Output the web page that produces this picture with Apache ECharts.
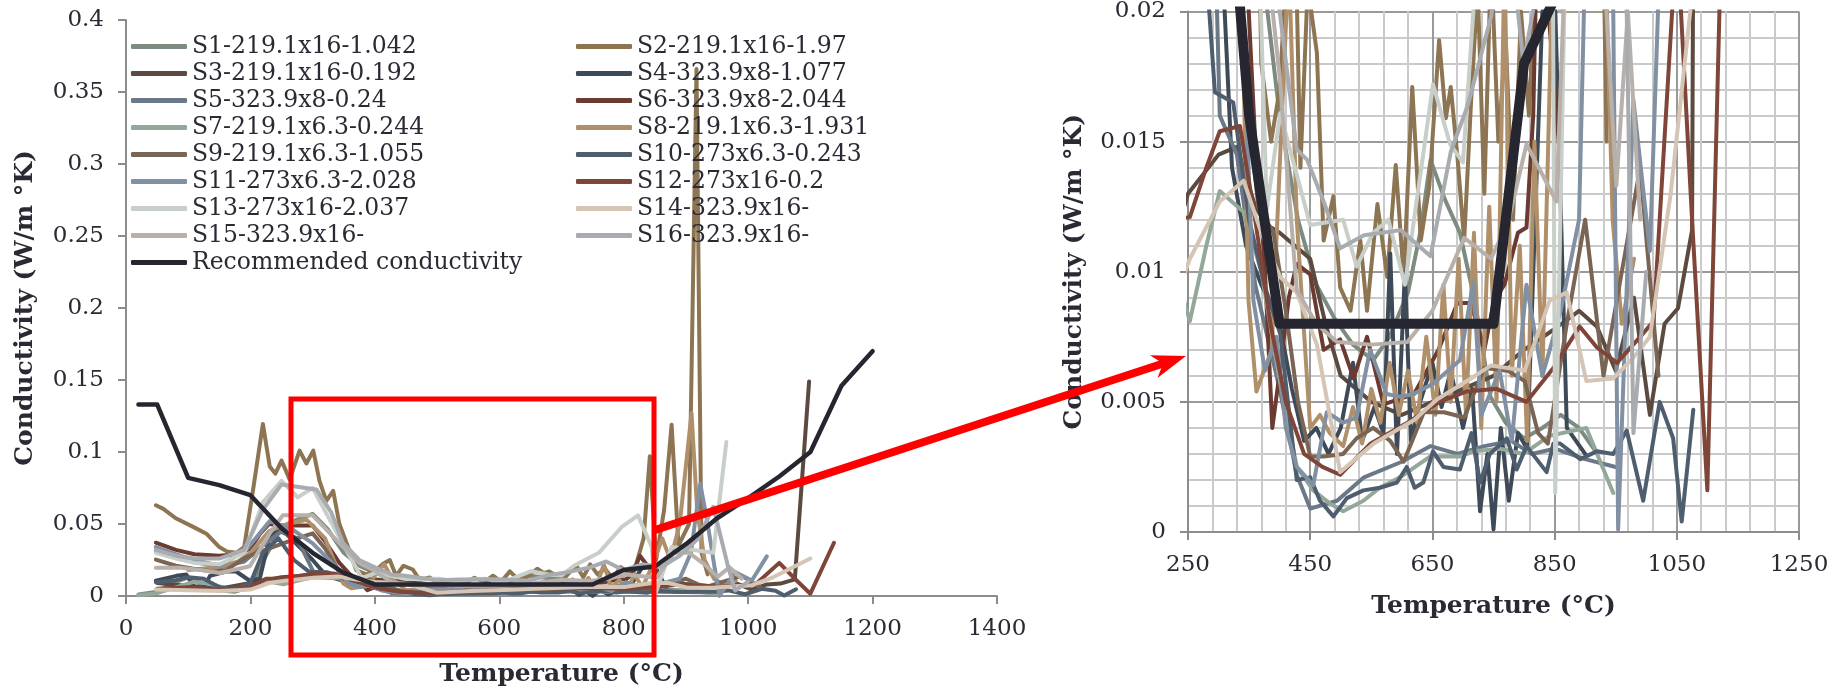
<!DOCTYPE html>
<html>
<head>
<meta charset="utf-8">
<script src="https://cdn.jsdelivr.net/npm/echarts@6/dist/echarts.min.js"></script>
<style>
  html, body { margin: 0; padding: 0; background: #ffffff; }
  #chart { width: 1841px; height: 692px; }
</style>
</head>
<body>
<div id="chart"></div>
<script>
// series names, in legend order
const seriesNames = [
  "S1-219.1x16-1.042", "S2-219.1x16-1.97", "S3-219.1x16-0.192", "S4-323.9x8-1.077",
  "S5-323.9x8-0.24", "S6-323.9x8-2.044", "S7-219.1x6.3-0.244", "S8-219.1x6.3-1.931",
  "S9-219.1x6.3-1.055", "S10-273x6.3-0.243", "S11-273x6.3-2.028", "S12-273x16-0.2",
  "S13-273x16-2.037", "S14-323.9x16-", "S15-323.9x16-", "S16-323.9x16-",
  "Recommended conductivity",
];

// [temperature °C, conductivity W/m°K]
const s1 = [[20,0.001],[50,0.003],[75,0.009],[100,0.013],[125,0.007],[150,0.004],[175,0.003],[200,0.006],[225,0.028],[250,0.048],[275,0.053],[300,0.057],[325,0.046],[350,0.03],[375,0.021],[400,0.016],[430,0.012],[460,0.0095],[490,0.0082],[520,0.0072],[553,0.0066],[580,0.0075],[610,0.0092],[630,0.0115],[647,0.0143],[670,0.0128],[695,0.0115],[720,0.0088],[745,0.0052],[770,0.0042],[800,0.0036],[830,0.004],[860,0.0045],[890,0.004],[920,0.003]];
const s2 = [[48,0.063],[60,0.0605],[80,0.054],[108,0.048],[130,0.043],[150,0.034],[162,0.031],[177,0.03],[190,0.034],[204,0.073],[220,0.1195],[231,0.09],[240,0.085],[250,0.094],[263,0.081],[279,0.101],[290,0.092],[301,0.101],[311,0.08],[322,0.066],[333,0.073],[343,0.05],[357,0.034],[370,0.018],[386,0.015],[400,0.017],[412,0.022],[424,0.025],[434,0.014],[446,0.021],[461,0.0184],[472,0.0112],[488,0.0129],[499,0.0094],[516,0.0085],[532,0.0112],[543,0.0085],[560,0.0126],[576,0.0098],[590,0.0141],[603,0.0098],[617,0.0171],[631,0.0112],[645,0.0133],[661,0.0189],[672,0.0159],[680,0.0171],[691,0.0144],[702,0.0112],[713,0.0164],[724,0.021],[735,0.013],[746,0.022],[758,0.015],[770,0.019],[782,0.012],[795,0.02],[808,0.016],[820,0.022],[832,0.04],[842,0.097],[852,0.025],[865,0.06],[877,0.119],[888,0.035],[905,0.05],[917,0.366],[925,0.03],[935,0.015]];
const s3 = [[50,0.009],[100,0.007],[150,0.005],[200,0.009],[250,0.013],[300,0.0145],[330,0.0148],[360,0.0125],[379,0.0118],[400,0.0115],[425,0.011],[450,0.0105],[475,0.008],[500,0.006],[550,0.005],[600,0.0045],[650,0.005],[700,0.0055],[750,0.006],[800,0.007],[850,0.0078],[890,0.0085],[919,0.0079],[950,0.0062],[980,0.009],[1006,0.0045],[1030,0.008],[1052,0.0086],[1075,0.0116],[1098,0.149]];
const s4 = [[48,0.0106],[81,0.014],[97,0.015],[108,0.007],[124,0.005],[135,0.014],[161,0.017],[177,0.017],[199,0.0106],[215,0.012],[231,0.041],[242,0.046],[258,0.043],[279,0.034],[300,0.025],[322,0.014],[345,0.011],[370,0.0095],[400,0.008],[420,0.0055],[440,0.0035],[460,0.004],[480,0.003],[500,0.004],[520,0.0065],[535,0.0035],[555,0.0048],[570,0.0038],[581,0.0107],[592,0.003],[605,0.01],[615,0.0035],[630,0.005],[650,0.0065],[665,0.0048],[680,0.0062],[700,0.004],[715,0.0055],[728,0.0008],[740,0.003],[750,0.0001],[762,0.004],[775,0.0012],[790,0.0038],[805,0.0032],[830,0.02],[850,0.021],[870,0.004],[900,0.003]];
const s5 = [[48,0.031],[80,0.027],[108,0.024],[150,0.02],[190,0.024],[220,0.035],[250,0.045],[275,0.04],[302,0.016],[330,0.0145],[360,0.0095],[400,0.0055],[428,0.0022],[450,0.0009],[494,0.0012],[538,0.0021],[600,0.0027],[647,0.0033],[691,0.003],[735,0.0033],[779,0.0035],[812,0.003],[850,0.0032],[900,0.0028],[950,0.0025]];
const s6 = [[48,0.037],[80,0.032],[110,0.029],[150,0.028],[180,0.029],[200,0.033],[215,0.043],[230,0.05],[250,0.049],[268,0.049],[300,0.049],[320,0.038],[343,0.023],[360,0.015],[375,0.0105],[388,0.004],[401,0.0063],[415,0.009],[428,0.0103],[450,0.0099],[472,0.007],[499,0.0074],[521,0.0059],[543,0.0075],[570,0.0049],[620,0.0053],[660,0.007],[691,0.0088],[713,0.0088],[735,0.007],[751,0.0089],[768,0.0095],[790,0.0115],[804,0.0117],[815,0.016],[826,0.028],[840,0.02],[860,0.014]];
const s7 = [[20,0.0005],[50,0.002],[80,0.006],[110,0.01],[140,0.008],[170,0.004],[200,0.005],[230,0.01],[253,0.0081],[280,0.011],[302,0.0131],[341,0.0123],[370,0.01],[401,0.0057],[428,0.0025],[455,0.0016],[482,0.0011],[504,0.0008],[537,0.0012],[564,0.0017],[597,0.0021],[646,0.0029],[695,0.0029],[717,0.0031],[761,0.0032],[799,0.003],[842,0.0037],[902,0.004],[946,0.0015]];
const s8 = [[100,0.018],[150,0.02],[180,0.024],[200,0.03],[230,0.045],[260,0.05],[290,0.053],[320,0.04],[349,0.0089],[362,0.0054],[376,0.0063],[387,0.007],[400,0.014],[415,0.022],[428,0.012],[450,0.004],[466,0.0045],[482,0.0038],[504,0.0033],[520,0.0048],[535,0.0034],[550,0.0055],[565,0.0042],[580,0.0065],[595,0.0045],[610,0.0062],[625,0.0042],[640,0.0075],[655,0.0045],[668,0.0095],[680,0.005],[693,0.0105],[705,0.0045],[718,0.0115],[730,0.004],[743,0.0125],[755,0.005],[768,0.022],[780,0.006],[793,0.011],[805,0.0035],[817,0.015],[830,0.006],[845,0.02],[862,0.04],[875,0.025],[890,0.05],[909,0.127],[918,0.06],[930,0.025],[945,0.012],[960,0.008],[980,0.0105]];
const s9 = [[48,0.0253],[80,0.021],[108,0.019],[140,0.017],[161,0.018],[193,0.027],[236,0.034],[268,0.039],[300,0.0435],[320,0.033],[341,0.018],[365,0.0125],[390,0.0115],[410,0.0085],[430,0.005],[450,0.0029],[472,0.0029],[504,0.003],[526,0.0036],[553,0.004],[581,0.0035],[603,0.0027],[636,0.0046],[669,0.0046],[702,0.0044],[735,0.0063],[773,0.0062],[801,0.0058],[823,0.0038],[839,0.0034],[870,0.008],[900,0.012],[930,0.006],[960,0.01],[990,0.014],[1020,0.006]];
const s10 = [[48,0.0095],[80,0.011],[100,0.013],[125,0.012],[150,0.006],[175,0.005],[200,0.009],[220,0.03],[245,0.04],[270,0.025],[294,0.0169],[324,0.0165],[350,0.012],[375,0.0095],[401,0.0076],[428,0.002],[450,0.0021],[466,0.0012],[488,0.0006],[510,0.0013],[537,0.0016],[564,0.0017],[592,0.0019],[608,0.0025],[621,0.0017],[635,0.0019],[651,0.0031],[668,0.0025],[695,0.0024],[714,0.0038],[728,0.0019],[744,0.003],[772,0.0036],[788,0.0024],[804,0.0033],[837,0.0023],[848,0.0034],[859,0.0034],[892,0.0028],[919,0.0031],[946,0.003],[968,0.0039],[995,0.0012],[1022,0.005],[1044,0.0036],[1058,0.0004],[1077,0.0047]];
const s11 = [[48,0.034],[80,0.029],[108,0.025],[151,0.021],[193,0.032],[231,0.052],[268,0.046],[300,0.0366],[343,0.018],[357,0.0089],[376,0.0062],[395,0.0075],[410,0.004],[428,0.0025],[455,0.0018],[477,0.0046],[504,0.0042],[526,0.0044],[548,0.007],[575,0.0053],[597,0.0052],[619,0.0053],[651,0.0057],[695,0.0066],[717,0.0096],[730,0.0045],[760,0.0062],[780,0.0035],[804,0.0095],[830,0.006],[860,0.0085],[890,0.012],[908,0.03],[923,0.078],[935,0.05],[946,0.02],[954,0.0001],[979,0.0166],[1006,0.0108],[1030,0.0275]];
const s12 = [[50,0.005],[100,0.006],[150,0.004],[200,0.006],[225,0.012],[253,0.0121],[280,0.014],[302,0.0154],[335,0.0156],[360,0.012],[385,0.008],[410,0.005],[440,0.003],[470,0.0025],[499,0.0022],[549,0.0034],[609,0.0042],[662,0.005],[706,0.0054],[755,0.0055],[804,0.005],[848,0.0063],[891,0.0079],[919,0.0071],[952,0.0065],[990,0.0075],[1012,0.0081],[1050,0.023],[1075,0.012],[1100,0.0016],[1138,0.037]];
const s13 = [[48,0.03],[80,0.026],[110,0.023],[150,0.022],[190,0.03],[220,0.065],[250,0.08],[276,0.0685],[300,0.075],[325,0.055],[350,0.035],[368,0.021],[379,0.0124],[401,0.0161],[450,0.0118],[504,0.012],[526,0.0102],[553,0.0115],[578,0.012],[605,0.0095],[651,0.0172],[679,0.0149],[700,0.0142],[720,0.021],[760,0.03],[797,0.048],[823,0.056],[845,0.034],[851,0.0015],[877,0.034],[944,0.03],[965,0.107]];
const s14 = [[48,0.0045],[100,0.004],[150,0.0035],[200,0.0045],[230,0.009],[253,0.0105],[302,0.0127],[341,0.0135],[370,0.0115],[401,0.0098],[428,0.0092],[461,0.0072],[499,0.0023],[554,0.0034],[620,0.0043],[658,0.0051],[713,0.0059],[746,0.0064],[801,0.0062],[842,0.0089],[870,0.0092],[902,0.0058],[946,0.0059],[979,0.0067],[1006,0.0075],[1040,0.013],[1072,0.02],[1100,0.026]];
const s15 = [[48,0.0197],[86,0.0197],[120,0.018],[151,0.016],[199,0.0207],[231,0.0435],[252,0.056],[300,0.056],[343,0.0367],[375,0.023],[400,0.0175],[428,0.0093],[460,0.008],[494,0.0073],[550,0.0072],[609,0.0073],[650,0.0085],[702,0.0113],[746,0.0105],[775,0.012],[804,0.0149],[853,0.0127],[880,0.03],[905,0.03],[930,0.022],[951,0.0133],[970,0.02],[990,0.012]];
const s16 = [[48,0.032],[80,0.028],[110,0.026],[150,0.026],[190,0.032],[220,0.06],[250,0.0775],[306,0.074],[330,0.058],[349,0.0367],[375,0.025],[400,0.02],[428,0.0147],[445,0.0143],[472,0.0127],[499,0.0109],[538,0.0114],[598,0.0116],[647,0.0106],[680,0.0146],[708,0.0164],[746,0.0198],[772,0.024],[799,0.018],[830,0.022],[860,0.02],[890,0.028],[920,0.04],[944,0.062],[968,0.02],[979,0.0038],[1000,0.01]];
const recommended = [[20,0.133],[50,0.133],[100,0.082],[150,0.077],[200,0.07],[250,0.047],[300,0.03],[350,0.016],[400,0.008],[450,0.008],[500,0.008],[550,0.008],[600,0.008],[650,0.008],[700,0.008],[750,0.008],[800,0.018],[850,0.0205],[900,0.036],[950,0.054],[1000,0.068],[1050,0.083],[1100,0.1],[1150,0.146],[1200,0.17]];

const seriesData = [s1, s2, s3, s4, s5, s6, s7, s8, s9, s10, s11, s12, s13, s14, s15, s16, recommended];

const colors = [
  "#7d8b80", "#8d7553", "#5b4a3f", "#3e4a57", "#6a7888", "#6b3a30", "#94a89a", "#b0906a",
  "#7a6555", "#4f5e6e", "#8290a4", "#7e4538", "#c8cec8", "#d5c5b5", "#b8b0aa", "#a8abb0",
  "#262631",
];

const font = "'DejaVu Serif', Georgia, serif";
const textColor = "#2a2a35";
const axisGray = "#8c8c8c";

function fmt(v) {
  return "" + parseFloat(v.toFixed(4));
}

function buildSeries(gridIdx) {
  let out = [];
  seriesData.forEach((d, i) => {
    let isRec = i == seriesData.length - 1;
    out.push({
      name: seriesNames[i],
      type: "line",
      xAxisIndex: gridIdx,
      yAxisIndex: gridIdx,
      data: d,
      symbol: "none",
      clip: true,
      animation: false,
      silent: true,
      itemStyle: { color: colors[i] },
      lineStyle: {
        color: colors[i],
        width: isRec ? (gridIdx == 0 ? 4.5 : 10) : 4,
        join: "round",
        cap: "round",
      },
    });
  });
  return out;
}

function legendFor(names, left) {
  return {
    orient: "vertical",
    left: left,
    top: 33,
    padding: 0,
    itemGap: 0,
    itemWidth: 56,
    itemHeight: 5,
    icon: "roundRect",
    selectedMode: false,
    data: names,
    textStyle: { fontFamily: font, fontSize: 23.5, color: textColor, lineHeight: 27 },
  };
}

let chart = echarts.init(document.getElementById("chart"));

let axisCommon = {
  axisLine: { show: true, lineStyle: { color: axisGray, width: 2 } },
  axisTick: { show: true, length: 8, lineStyle: { color: axisGray, width: 2 } },
  axisLabel: { fontFamily: font, fontSize: 23, color: textColor, margin: 22, formatter: fmt },
  nameLocation: "middle",
  nameTextStyle: { fontFamily: font, fontSize: 25, fontWeight: "bold", color: textColor },
};

let option = {
  backgroundColor: "#ffffff",
  textStyle: { fontFamily: font },
  legend: [
    legendFor(seriesNames.filter((n, i) => i % 2 == 0), 131),
    legendFor(seriesNames.filter((n, i) => i % 2 == 1), 576),
  ],
  grid: [
    { left: 126, right: 844, top: 20, bottom: 85 },
    { left: 1188, right: 42, top: 10, bottom: 160 },
  ],
  xAxis: [
    Object.assign({}, axisCommon, {
      type: "value", gridIndex: 0, min: 0, max: 1400, interval: 200,
      splitLine: { show: false },
      name: "Temperature (°C)", nameGap: 66,
    }),
    Object.assign({}, axisCommon, {
      type: "value", gridIndex: 1, min: 250, max: 1250, interval: 200,
      splitLine: { show: true, lineStyle: { color: "#9a9a9a", width: 2 } },
      minorTick: { show: false, splitNumber: 5 },
      minorSplitLine: { show: true, lineStyle: { color: "#cacaca", width: 2 } },
      name: "Temperature (°C)", nameGap: 62,
    }),
  ],
  yAxis: [
    Object.assign({}, axisCommon, {
      type: "value", gridIndex: 0, min: 0, max: 0.4, interval: 0.05,
      splitLine: { show: false },
      name: "Conductivity (W/m °K)", nameGap: 88,
    }),
    Object.assign({}, axisCommon, {
      type: "value", gridIndex: 1, min: 0, max: 0.02, interval: 0.005,
      splitLine: { show: true, lineStyle: { color: "#9a9a9a", width: 2 } },
      minorTick: { show: false, splitNumber: 5 },
      minorSplitLine: { show: true, lineStyle: { color: "#cacaca", width: 2 } },
      name: "Conductivity (W/m °K)", nameGap: 101,
    }),
  ],
  series: buildSeries(0).concat(buildSeries(1)),
};
chart.setOption(option);

// zoom box on the left chart and the arrow pointing to the detail chart
let boxX = 291, boxY = 399, boxW = 363, boxH = 256;
let tail = [655, 530], tip = [1186, 356];
let dx = tip[0] - tail[0], dy = tip[1] - tail[1];
let len = Math.sqrt(dx * dx + dy * dy);
let ux = dx / len, uy = dy / len, nx = -uy, ny = ux;
let headLen = 34, headHalf = 12, notch = 24;
let base = [tip[0] - headLen * ux, tip[1] - headLen * uy];
let neck = [tip[0] - notch * ux, tip[1] - notch * uy];

chart.setOption({
  graphic: [
    {
      type: "rect", z: 100,
      shape: { x: boxX, y: boxY, width: boxW, height: boxH },
      style: { fill: "none", stroke: "#ff0000", lineWidth: 5 },
    },
    {
      type: "line", z: 100,
      shape: { x1: tail[0], y1: tail[1], x2: neck[0], y2: neck[1] },
      style: { stroke: "#ff0000", lineWidth: 8 },
    },
    {
      type: "polygon", z: 100,
      shape: {
        points: [
          tip,
          [base[0] + headHalf * nx, base[1] + headHalf * ny],
          neck,
          [base[0] - headHalf * nx, base[1] - headHalf * ny],
        ],
      },
      style: { fill: "#ff0000" },
    },
  ],
});
</script>
</body>
</html>
